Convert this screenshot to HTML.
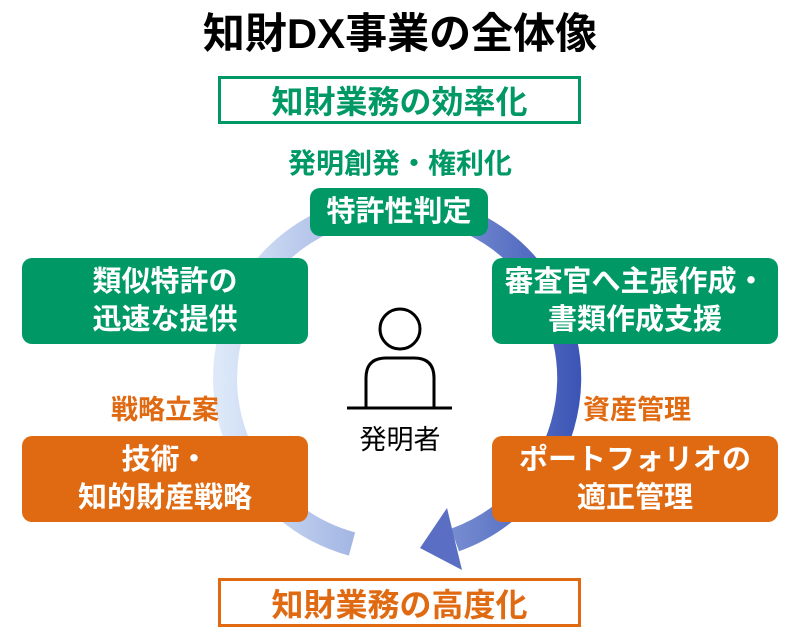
<!DOCTYPE html>
<html><head><meta charset="utf-8"><style>
body{margin:0;width:800px;height:643px;background:#fff;position:relative;overflow:hidden;font-family:"Liberation Sans","Noto Sans CJK JP",sans-serif;font-weight:bold}
.a{position:absolute;display:flex;align-items:center;justify-content:center;text-align:center;box-sizing:border-box;white-space:nowrap}
.g{background:#009966;color:#fff;border-radius:10px;font-size:29px;line-height:38px}
.o{background:#e06a12;color:#fff;border-radius:10px;font-size:29px;line-height:38px}
</style></head><body>
<svg width="800" height="643" style="position:absolute;left:0;top:0">
<defs><linearGradient id="gr" x1="220" y1="0" x2="580" y2="0" gradientUnits="userSpaceOnUse">
<stop offset="0" stop-color="#dde9f9"/><stop offset="0.5" stop-color="#8fa4dc"/><stop offset="1" stop-color="#3c55b6"/></linearGradient></defs>
<path d="M 352 544 A 172 172 0 1 1 455 540" fill="none" stroke="url(#gr)" stroke-width="24"/>
<polygon points="420,548 447,508 462,570" fill="#5a6fc4"/>
<circle cx="400" cy="329" r="20" fill="none" stroke="#000" stroke-width="3"/>
<path d="M366 408 V378 Q366 358 386 358 H414 Q434 358 434 378 V408" fill="none" stroke="#000" stroke-width="3"/>
<line x1="347" y1="408" x2="452" y2="408" stroke="#000" stroke-width="3"/>
</svg>
<div class="a" style="left:0;top:8px;width:800px;height:44px;font-size:42px;color:#000">知財DX事業の全体像</div>
<div class="a" style="left:218px;top:76px;width:363px;height:48px;border:3px solid #009966;color:#009966;font-size:32px">知財業務の効率化</div>
<div class="a" style="left:0;top:145px;width:800px;height:34px;color:#009966;font-size:28px">発明創発・権利化</div>
<div class="a g" style="left:310px;top:188px;width:178px;height:48px">特許性判定</div>
<div class="a g" style="left:22px;top:258px;width:286px;height:86px">類似特許の<br>迅速な提供</div>
<div class="a g" style="left:492px;top:258px;width:286px;height:86px">審査官へ主張作成・<br>書類作成支援</div>
<div class="a" style="left:100px;top:390px;width:130px;height:34px;color:#e06a12;font-size:27px">戦略立案</div>
<div class="a" style="left:572px;top:390px;width:130px;height:34px;color:#e06a12;font-size:27px">資産管理</div>
<div class="a o" style="left:22px;top:436px;width:286px;height:86px">技術・<br>知的財産戦略</div>
<div class="a o" style="left:492px;top:436px;width:286px;height:86px">ポートフォリオの<br>適正管理</div>
<div class="a" style="left:330px;top:420px;width:140px;height:34px;font-size:27px;font-weight:normal;color:#000">発明者</div>
<div class="a" style="left:218px;top:578px;width:363px;height:49px;border:3px solid #e06a12;color:#e06a12;font-size:32px">知財業務の高度化</div>
</body></html>
